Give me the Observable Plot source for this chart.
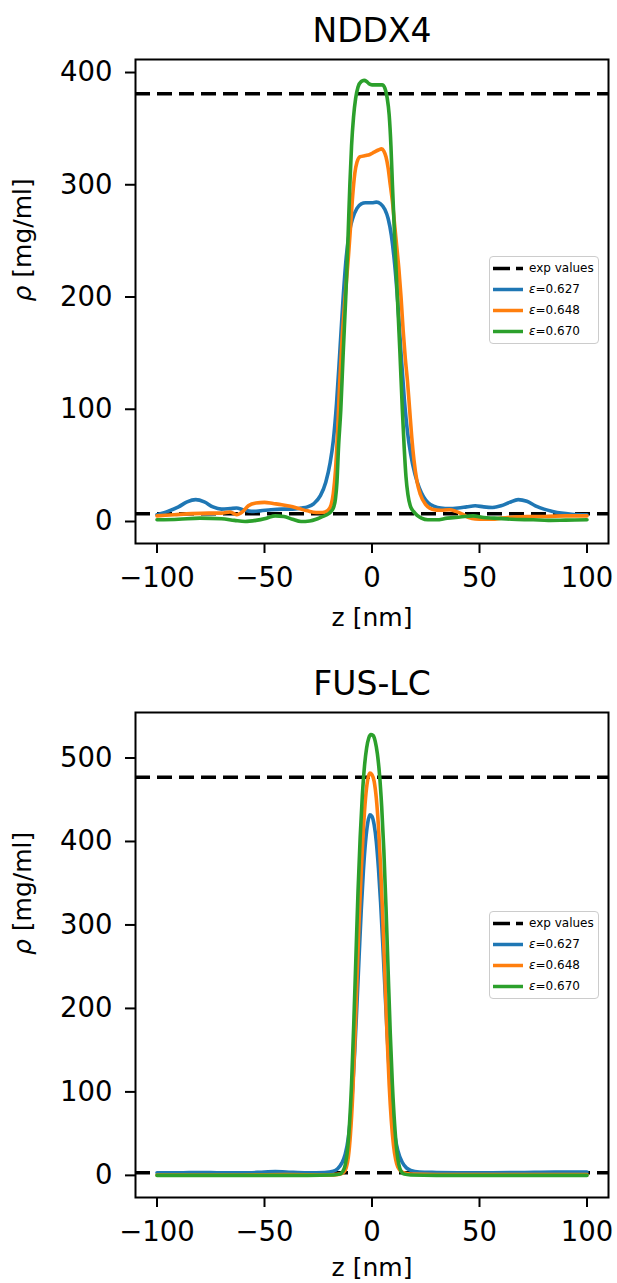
<!DOCTYPE html>
<html>
<head>
<meta charset="utf-8">
<script src="https://cdn.jsdelivr.net/npm/d3@7"></script>
<script src="https://cdn.jsdelivr.net/npm/@observablehq/plot@0.6"></script>
<style>
  body { margin: 0; background: #fff; }
  #wrap { position: relative; width: 617px; height: 1283px; font-family: "DejaVu Sans", sans-serif; overflow: hidden; }
  #wrap > svg { display: block; }
  .legend { position: absolute; width: 108px; height: 86px; border: 1px solid #cccccc; border-radius: 4px; background: rgba(255,255,255,0.8); font-size: 12px; color: #000; }
  .legend .row { position: absolute; left: 0; height: 21px; line-height: 21px; white-space: nowrap; }
  .legend .row svg { position: absolute; left: 1px; top: 5px; }
  .legend .row span { position: absolute; left: 39px; top: 0; }
</style>
</head>
<body>
<div id="wrap"></div>
<script>
// ---------- data ----------
const panelTitles = ["NDDX4", "FUS-LC"];
const seriesLabels = ["ε=0.627", "ε=0.648", "ε=0.670"];
const seriesColors = ["#1f77b4", "#ff7f0e", "#2ca02c"];
const xTicks = [-100, -50, 0, 50, 100];
const yTicksNDDX4 = [0, 100, 200, 300, 400];
const yTicksFUS = [0, 100, 200, 300, 400, 500];

// experimental values (dashed lines), mg/ml
const expNDDX4 = [7, 381];
const expFUS = [3, 477];

// NDDX4 density profiles [z (nm), rho (mg/ml)]
const nddx4_eps0627 = [[-100,6],[-95,9],[-90,13],[-86,17.5],[-82,19.5],[-78,17.5],[-74,13],[-70,11],[-66,11.5],[-63,12],[-60,10.5],[-56,9],[-52,9.5],[-47,10.5],[-42,11],[-37,11],[-33,12],[-30,13],[-27,16],[-24,23],[-21.5,35],[-19.5,52],[-18,72],[-16.5,105],[-15,150],[-13.5,197],[-12,235],[-10.5,258],[-9,270],[-7,279],[-5,283],[-3,284],[0,284],[2,284.5],[4,283],[6,278],[7.5,270],[9,255],[10.5,230],[12,195],[13.5,150],[15,110],[16.5,80],[18,60],[20,42],[22,30],[24,22],[26,17],[29,13.5],[32,12],[36,11.5],[40,12],[44,13],[48,14],[52,13],[56,12.5],[60,14],[64,17],[68,19.5],[72,18],[76,14],[80,11],[84,9],[88,7.5],[93,6.5],[100,6]];
const nddx4_eps0648 = [[-100,5],[-92,6],[-84,7],[-76,7.5],[-70,7.5],[-66,8.5],[-63,6],[-60,9],[-57.5,14],[-54,16.5],[-50,17],[-46,16],[-42,15],[-38,13.5],[-34,11.5],[-30,9.5],[-26,8],[-23,8],[-20.5,10],[-19,15],[-18,25],[-17,45],[-16,80],[-15,125],[-14,160],[-12.5,200],[-11,235],[-10,262],[-9,290],[-8,310],[-7,320],[-5.5,325],[-3,326],[-1,327],[1,329],[3,331],[4.5,332],[5.5,330],[6.5,325],[7.5,315],[8.5,300],[9.5,285],[10.5,265],[11.5,245],[12.5,225],[13.5,200],[14.5,170],[15.5,145],[16.5,125],[17.5,100],[18.5,75],[19.5,55],[21,35],[22.5,24],[25,15],[28,11],[32,10],[36,10.5],[39,9],[42,6.5],[45,3.5],[48,2.2],[52,2],[56,2],[60,3],[66,4],[72,4.5],[80,4.5],[90,5],[100,5]];
const nddx4_eps0670 = [[-100,1.5],[-90,2],[-80,3],[-70,2.5],[-64,1],[-59,0],[-54,1],[-49,3],[-45,5],[-41,4.5],[-37,2],[-33,0],[-29,0.5],[-26,2],[-23.5,4],[-21,6],[-19,9],[-17.8,13],[-17,20],[-16.3,35],[-15.6,65],[-14.5,100],[-13.4,150],[-12.2,200],[-11.2,250],[-10.3,300],[-9.5,335],[-8.6,360],[-7.6,377],[-6.5,387],[-5,392],[-3.7,393],[-2.5,392],[-1.4,390],[0,389],[1.6,389],[3,389],[4.7,389],[6,386],[7,378],[8,362],[8.8,335],[9.5,300],[10.6,250],[11.8,200],[13,150],[14.1,100],[15,65],[15.8,40],[16.7,24],[17.8,14],[19.3,9],[21,5.5],[23,3],[26,1.5],[30,1.5],[35,3],[41,4],[47,5],[52,3.5],[57,3],[65,2],[75,1.5],[82,1],[90,1.2],[100,1.5]];

// FUS-LC density profiles [z (nm), rho (mg/ml)]
const fus_eps0627 = [[-100,3],[-90,3],[-80,3.5],[-70,3],[-60,3],[-50,4],[-45,4.5],[-40,4],[-30,3],[-22,3.5],[-18,5],[-16,8],[-14,15],[-12.5,25],[-11,45],[-10,70],[-9,105],[-8,150],[-7,205],[-6,262],[-5,318],[-4,365],[-3,400],[-2,422],[-1,432],[0,430],[1,420],[2,400],[3,368],[4,327],[5,278],[6,225],[7,172],[8,125],[9,88],[10,60],[11,42],[12,30],[14,16],[16,9],[18,6],[22,4],[30,3.5],[50,3],[70,3.5],[85,4],[100,4]];
const fus_eps0648 = [[-100,0.5],[-60,0.5],[-40,1],[-20,0.5],[-15,1.5],[-13,4],[-12,9],[-11,22],[-10,50],[-9,95],[-8,160],[-7,235],[-6,305],[-5,365],[-4,415],[-3,452],[-2,474],[-1,482],[0,480],[1,472],[2,452],[3,418],[4,370],[5,310],[6,240],[7,168],[8,108],[9,65],[10,36],[11,19],[12,10],[14,4],[18,1.5],[30,1],[60,1],[100,1]];
const fus_eps0670 = [[-100,0],[-60,0],[-30,0],[-18,0.5],[-15,1.5],[-13.5,5],[-12.5,12],[-11.5,28],[-10.5,60],[-9.5,110],[-8.5,180],[-7.5,260],[-6.5,340],[-5.5,405],[-4.5,455],[-3.5,490],[-2.5,512],[-1.5,524],[-0.5,528],[0.5,527],[1.5,520],[2.5,505],[3.5,480],[4.5,442],[5.5,390],[6.5,322],[7.5,245],[8.5,170],[9.5,108],[10.5,62],[11.5,30],[12.5,13],[13.5,5],[15,1.5],[18,0.5],[30,0],[60,0],[100,0]];

// ---------- drawing ----------
const FONT = "DejaVu Sans, sans-serif";
const fmt = d3.format("d");

function panel({title, series, exp, yDomain, yTicks, height, marginTop, marginBottom, xLabelDy}) {
  const rows = series.flatMap((s, i) => s.map(([z, rho]) => ({z, rho, label: seriesLabels[i]})));
  const svg = Plot.plot({
    width: 617, height, marginLeft: 135, marginRight: 9, marginTop, marginBottom,
    style: {fontFamily: FONT, background: "white", overflow: "visible", color: "black"},
    x: {domain: [-110, 110]},
    y: {domain: yDomain},
    color: {domain: seriesLabels, range: seriesColors},
    marks: [
      Plot.ruleY(exp, {stroke: "black", strokeWidth: 3.5, strokeDasharray: "15,7"}),
      Plot.line(rows, {x: "z", y: "rho", z: "label", stroke: "label", strokeWidth: 3.6, curve: "monotone-x"}),
      Plot.frame({stroke: "black", strokeWidth: 2}),
      Plot.axisX({ticks: xTicks, tickFormat: fmt, tickSize: 10, tickPadding: 14, strokeWidth: 2, fontSize: 27.5, label: null}),
      Plot.axisY({ticks: yTicks, tickFormat: fmt, tickSize: 10, tickPadding: 13, strokeWidth: 2, fontSize: 27.5, label: null}),
      Plot.text([title], {text: d => d, frameAnchor: "top", lineAnchor: "bottom", dy: -18, fontSize: 33}),
      Plot.text(["z [nm]"], {text: d => d, frameAnchor: "bottom", lineAnchor: "bottom", dy: xLabelDy, fontSize: 25}),
      Plot.text(["ρ [mg/ml]"], {text: d => d, frameAnchor: "left", lineAnchor: "bottom", rotate: -90, dx: -104.5, fontSize: 25})
    ]
  });
  // italic rho as in the mathtext label
  d3.select(svg).selectAll("text").filter(function() { return this.textContent === "ρ [mg/ml]"; })
    .each(function() {
      const t = d3.select(this);
      this.textContent = "";
      t.append("tspan").attr("font-style", "italic").text("ρ");
      t.append("tspan").text("\u00a0[mg/ml]");
    });
  return svg;
}

function legend(top) {
  const div = document.createElement("div");
  div.className = "legend";
  div.style.left = "489px";
  div.style.top = top + "px";
  const entries = [{label: "exp values", color: "black", dash: true}]
    .concat(seriesLabels.map((l, i) => ({label: l, color: seriesColors[i], dash: false})));
  entries.forEach((e, i) => {
    const row = document.createElement("div");
    row.className = "row";
    row.style.top = (1 + 21 * i) + "px";
    const dash = e.dash ? ' stroke-dasharray="17,6"' : "";
    row.innerHTML = `<svg width="34" height="11"><line x1="2" x2="32" y1="5.5" y2="5.5" stroke="${e.color}" stroke-width="3.5"${dash}/></svg>` +
      (e.dash ? `<span>${e.label}</span>` : `<span><i>ε</i>${e.label.slice(1)}</span>`);
    div.appendChild(row);
  });
  return div;
}

const wrap = document.getElementById("wrap");
wrap.appendChild(panel({
  title: panelTitles[0], series: [nddx4_eps0627, nddx4_eps0648, nddx4_eps0670], exp: expNDDX4,
  yDomain: [-19.6, 411.6], yTicks: yTicksNDDX4, height: 641, marginTop: 59, marginBottom: 98, xLabelDy: 82
}));
wrap.appendChild(panel({
  title: panelTitles[1], series: [fus_eps0627, fus_eps0648, fus_eps0670], exp: expFUS,
  yDomain: [-26.5, 554.5], yTicks: yTicksFUS, height: 642, marginTop: 71, marginBottom: 86, xLabelDy: 78
}));
wrap.appendChild(legend(256));
wrap.appendChild(legend(911));
</script>
</body>
</html>
